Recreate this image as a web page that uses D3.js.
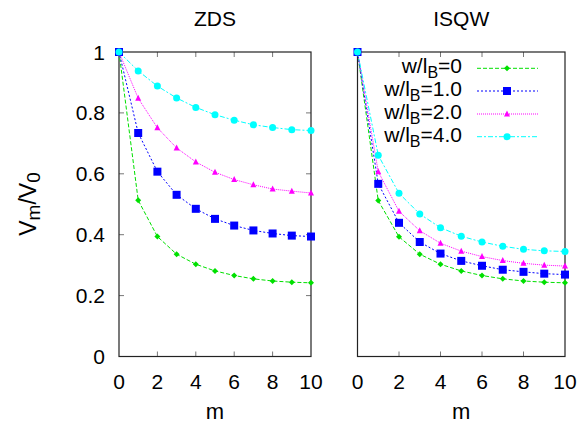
<!DOCTYPE html>
<html><head><meta charset="utf-8">
<script src="https://cdn.jsdelivr.net/npm/d3@7"></script>
<style>body{margin:0;background:#fff}svg{display:block}text{font-family:"Liberation Sans",Arial,sans-serif;fill:#000}</style>
</head><body><svg id="c" width="581" height="423"></svg>
<script>
const mValues = [0,1,2,3,4,5,6,7,8,9,10];
const seriesLabels = ["0","1.0","2.0","4.0"];
const zdsW0 = [1,0.513,0.394,0.336,0.303,0.281,0.266,0.255,0.248,0.244,0.242];
const zdsW1 = [1,0.734,0.607,0.531,0.485,0.452,0.430,0.414,0.404,0.397,0.394];
const zdsW2 = [1,0.848,0.751,0.685,0.639,0.605,0.581,0.564,0.550,0.543,0.537];
const zdsW4 = [1,0.938,0.888,0.849,0.818,0.794,0.776,0.761,0.752,0.745,0.742];
const isqwW0 = [1,0.512,0.393,0.336,0.303,0.281,0.266,0.255,0.248,0.244,0.242];
const isqwW1 = [1,0.567,0.439,0.376,0.338,0.314,0.298,0.285,0.278,0.272,0.269];
const isqwW2 = [1,0.607,0.477,0.413,0.372,0.346,0.328,0.315,0.306,0.300,0.297];
const isqwW4 = [1,0.661,0.536,0.468,0.423,0.395,0.376,0.362,0.352,0.347,0.345];
const yTicks = [0,0.2,0.4,0.6,0.8,1];
const xTicks = [0,2,4,6,8,10];
const panelTitles = ["ZDS","ISQW"];

const styles = [
  {color:"#00e000", dash:"4,2", marker:"diamond", size:5},
  {color:"#0000ff", dash:"2,2", marker:"square", size:8},
  {color:"#ff00ff", dash:"1,1", marker:"triangle", size:6},
  {color:"#00ffff", dash:"5,2,2,2", marker:"circle", size:7}
];
const svg = d3.select("#c");
const y = d3.scaleLinear().domain([0,1]).range([356.5,52]);
const panels = [
  {x0:119, x1:311, data:[zdsW0,zdsW1,zdsW2,zdsW4], yLabels:true},
  {x0:357.5, x1:565, data:[isqwW0,isqwW1,isqwW2,isqwW4], yLabels:false}
];
function drawMarker(g, type, cx, cy, s, color){
  if(type==="square") g.append("rect").attr("x",cx-s/2).attr("y",cy-s/2).attr("width",s).attr("height",s).attr("fill",color);
  else if(type==="circle") g.append("circle").attr("cx",cx).attr("cy",cy).attr("r",s/2).attr("fill",color);
  else if(type==="triangle") g.append("path").attr("d",`M${cx},${cy-s/2-0.5}L${cx+s/2},${cy+s/2-0.5}L${cx-s/2},${cy+s/2-0.5}Z`).attr("fill",color);
  else g.append("path").attr("d",`M${cx},${cy-s/2-0.5}L${cx+s/2+0.5},${cy}L${cx},${cy+s/2+0.5}L${cx-s/2-0.5},${cy}Z`).attr("fill",color);
}
panels.forEach((p,pi)=>{
  const x = d3.scaleLinear().domain([0,10]).range([p.x0,p.x1]);
  const g = svg.append("g");
  xTicks.slice(1,-1).forEach(t=>{
    g.append("line").attr("x1",x(t)).attr("x2",x(t)).attr("y1",y(0)).attr("y2",y(0)-5).attr("stroke","#777");
    g.append("line").attr("x1",x(t)).attr("x2",x(t)).attr("y1",y(1)).attr("y2",y(1)+5).attr("stroke","#777");
  });
  xTicks.forEach(t=>{
    g.append("text").attr("x",x(t)).attr("y",388.5).attr("text-anchor","middle").attr("font-size",21).text(t);
  });
  if(p.yLabels){
    yTicks.slice(1,-1).forEach(t=>{
      g.append("line").attr("x1",p.x0).attr("x2",p.x0+5).attr("y1",y(t)).attr("y2",y(t)).attr("stroke","#777");
      g.append("line").attr("x1",p.x1).attr("x2",p.x1-5).attr("y1",y(t)).attr("y2",y(t)).attr("stroke","#777");
    });
    yTicks.forEach(t=>{
      g.append("text").attr("x",105).attr("y",y(t)+7.5).attr("text-anchor","end").attr("font-size",21).text(t);
    });
  }
  g.append("rect").attr("x",p.x0).attr("y",y(1)).attr("width",p.x1-p.x0).attr("height",y(0)-y(1))
    .attr("fill","none").attr("stroke","#222").attr("stroke-width",1.2);
  g.append("text").attr("x",(p.x0+p.x1)/2).attr("y",25.5).attr("text-anchor","middle").attr("font-size",21).text(panelTitles[pi]);
  g.append("text").attr("x",(p.x0+p.x1)/2).attr("y",419).attr("text-anchor","middle").attr("font-size",22).text("m");
  const line = d3.line().x((d,i)=>x(mValues[i])).y(d=>y(d));
  p.data.forEach((s,si)=>{
    const st = styles[si];
    g.append("path").attr("d",line(s)).attr("fill","none").attr("stroke",st.color).attr("stroke-width",1).attr("stroke-dasharray",st.dash);
  });
  p.data.forEach((s,si)=>{
    const st = styles[si];
    s.forEach((v,i)=>drawMarker(g, st.marker, x(mValues[i]), y(v), st.size, st.color));
  });
});
const yl = svg.append("text").attr("transform","translate(36,204) rotate(-90)").attr("text-anchor","middle").attr("font-size",23);
yl.append("tspan").text("V");
yl.append("tspan").attr("dy",4).attr("font-size",19).text("m");
yl.append("tspan").attr("dy",-4).text("/V");
yl.append("tspan").attr("dy",4).attr("font-size",19).text("0");
const legY = [68.3,91,114,136.7];
seriesLabels.forEach((lab,i)=>{
  const st = styles[i];
  const t = svg.append("text").attr("x",462).attr("y",legY[i]+5).attr("text-anchor","end").attr("font-size",21);
  t.append("tspan").text("w/l");
  t.append("tspan").attr("dy",5).attr("font-size",16).text("B");
  t.append("tspan").attr("dy",-5).text("="+lab);
  svg.append("line").attr("x1",477).attr("x2",538).attr("y1",legY[i]).attr("y2",legY[i]).attr("stroke",st.color).attr("stroke-dasharray",st.dash);
  drawMarker(svg, st.marker, 507, legY[i], st.size, st.color);
});
</script></body></html>
